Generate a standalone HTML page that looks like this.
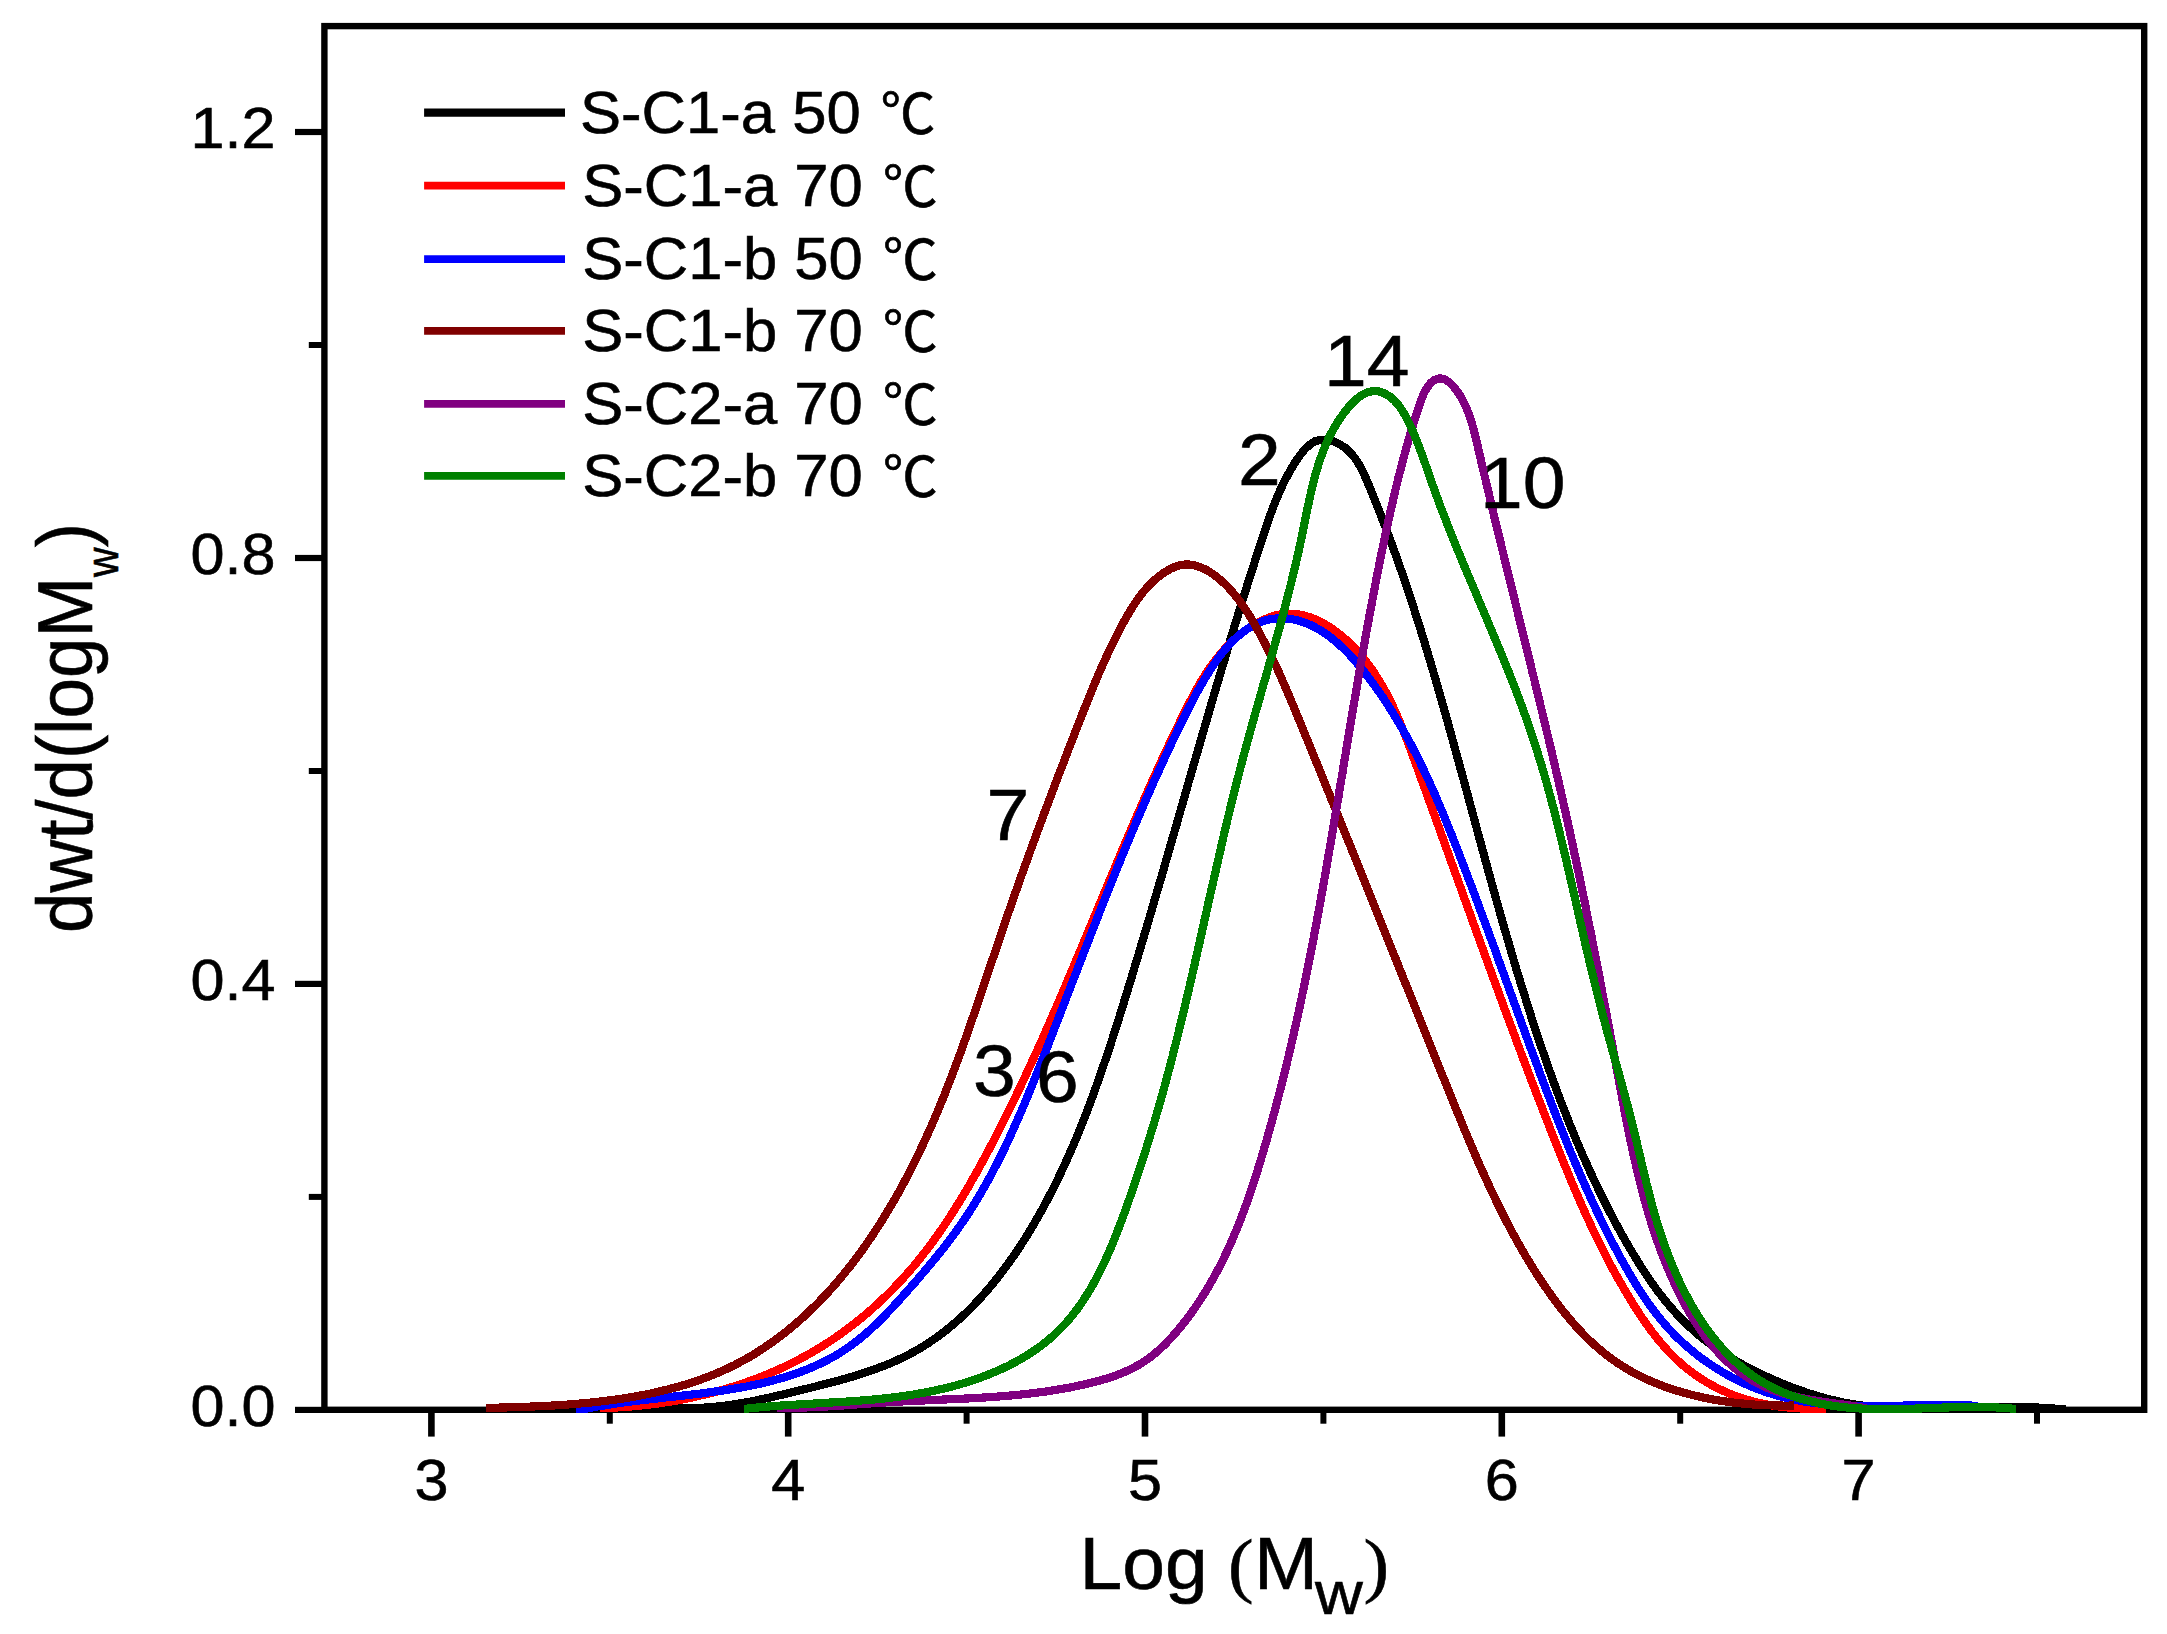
<!DOCTYPE html>
<html lang="en"><head><meta charset="utf-8"><title>Molecular weight distribution</title>
<style>
html,body{margin:0;padding:0;background:#fff;}
body{width:2167px;height:1634px;overflow:hidden;}
svg{display:block;}
text{fill:#000;stroke:#000;stroke-width:0.6px;}
</style></head><body>
<svg width="2167" height="1634" viewBox="0 0 2167 1634">
<rect x="0" y="0" width="2167" height="1634" fill="#fff"/>

<g stroke="#000" fill="none" stroke-linecap="butt">
<rect x="324.4" y="26.1" width="1819.7999999999997" height="1383.7" stroke-width="6.4"/>
<line x1="295" x2="324.4" y1="1409.9" y2="1409.9" stroke-width="6.2"/>
<line x1="295" x2="324.4" y1="983.9" y2="983.9" stroke-width="6.2"/>
<line x1="295" x2="324.4" y1="558.0" y2="558.0" stroke-width="6.2"/>
<line x1="295" x2="324.4" y1="132.0" y2="132.0" stroke-width="6.2"/>
<line x1="308.8" x2="324.4" y1="1196.9" y2="1196.9" stroke-width="6"/>
<line x1="308.8" x2="324.4" y1="771.0" y2="771.0" stroke-width="6"/>
<line x1="308.8" x2="324.4" y1="345.0" y2="345.0" stroke-width="6"/>
<line x1="431.4" x2="431.4" y1="1409.8" y2="1436.6" stroke-width="6.6"/>
<line x1="609.8" x2="609.8" y1="1409.8" y2="1423.7" stroke-width="6"/>
<line x1="788.2" x2="788.2" y1="1409.8" y2="1436.6" stroke-width="6.6"/>
<line x1="966.6" x2="966.6" y1="1409.8" y2="1423.7" stroke-width="6"/>
<line x1="1145.0" x2="1145.0" y1="1409.8" y2="1436.6" stroke-width="6.6"/>
<line x1="1323.4" x2="1323.4" y1="1409.8" y2="1423.7" stroke-width="6"/>
<line x1="1501.8" x2="1501.8" y1="1409.8" y2="1436.6" stroke-width="6.6"/>
<line x1="1680.2" x2="1680.2" y1="1409.8" y2="1423.7" stroke-width="6"/>
<line x1="1858.6" x2="1858.6" y1="1409.8" y2="1436.6" stroke-width="6.6"/>
<line x1="2037.0" x2="2037.0" y1="1409.8" y2="1423.7" stroke-width="6"/>
</g>
<g fill="none" stroke-width="8.2" stroke-linejoin="round" stroke-linecap="butt" shape-rendering="crispEdges">
<path stroke="#000000" d="M600.1,1409.2 L606.7,1409.2 L613.3,1408.8 L620.0,1408.5 L626.8,1408.3 L633.6,1408.3 L640.5,1408.2 L647.4,1408.3 L654.3,1408.3 L661.3,1408.4 L668.2,1408.4 L675.2,1408.4 L682.1,1408.3 L689.0,1408.2 L695.9,1408.0 L702.8,1407.7 L709.6,1407.2 L716.3,1406.6 L723.1,1405.9 L729.7,1405.0 L736.3,1404.0 L742.9,1402.9 L749.5,1401.7 L756.1,1400.4 L762.6,1399.0 L769.2,1397.6 L775.7,1396.1 L782.3,1394.6 L788.9,1393.0 L795.5,1391.4 L802.1,1389.8 L808.8,1388.2 L815.5,1386.5 L822.2,1384.8 L828.9,1383.1 L835.5,1381.4 L842.2,1379.5 L848.9,1377.6 L855.5,1375.7 L862.1,1373.6 L868.6,1371.4 L875.1,1369.1 L881.5,1366.7 L887.9,1364.2 L894.2,1361.6 L900.3,1358.7 L906.4,1355.8 L912.4,1352.6 L918.2,1349.3 L924.0,1345.9 L929.6,1342.2 L935.2,1338.4 L940.6,1334.5 L945.9,1330.4 L951.1,1326.1 L956.2,1321.8 L961.3,1317.3 L966.2,1312.7 L971.0,1307.9 L975.7,1303.1 L980.3,1298.1 L984.9,1293.0 L989.3,1287.9 L993.7,1282.6 L997.9,1277.3 L1002.1,1271.8 L1006.2,1266.3 L1010.2,1260.8 L1014.2,1255.1 L1018.0,1249.4 L1021.8,1243.7 L1025.5,1237.9 L1029.1,1232.0 L1032.6,1226.1 L1036.1,1220.2 L1039.5,1214.3 L1042.8,1208.3 L1046.0,1202.3 L1049.2,1196.2 L1052.3,1190.2 L1055.4,1184.1 L1058.4,1178.0 L1061.3,1171.8 L1064.2,1165.6 L1067.0,1159.5 L1069.8,1153.2 L1072.5,1147.0 L1075.2,1140.7 L1077.8,1134.5 L1080.4,1128.2 L1082.9,1121.9 L1085.4,1115.5 L1087.8,1109.2 L1090.2,1102.8 L1092.6,1096.4 L1094.9,1090.0 L1097.2,1083.6 L1099.5,1077.2 L1101.7,1070.8 L1103.9,1064.3 L1106.1,1057.9 L1108.3,1051.4 L1110.4,1045.0 L1112.5,1038.5 L1114.6,1032.0 L1116.7,1025.5 L1118.7,1019.0 L1120.8,1012.5 L1122.8,1006.0 L1124.8,999.5 L1126.8,993.0 L1128.8,986.5 L1130.8,980.0 L1132.8,973.5 L1134.7,966.9 L1136.7,960.4 L1138.7,953.9 L1140.6,947.4 L1142.6,940.9 L1144.5,934.4 L1146.5,927.8 L1148.4,921.3 L1150.3,914.8 L1152.2,908.3 L1154.1,901.7 L1156.0,895.2 L1158.0,888.7 L1159.9,882.1 L1161.8,875.6 L1163.7,869.1 L1165.5,862.5 L1167.4,856.0 L1169.3,849.5 L1171.2,842.9 L1173.1,836.4 L1175.0,829.8 L1176.9,823.3 L1178.7,816.8 L1180.6,810.2 L1182.5,803.7 L1184.4,797.1 L1186.3,790.6 L1188.1,784.0 L1190.0,777.5 L1191.9,771.0 L1193.8,764.4 L1195.7,757.9 L1197.6,751.3 L1199.5,744.8 L1201.4,738.2 L1203.3,731.7 L1205.2,725.1 L1207.1,718.6 L1209.0,712.0 L1210.9,705.5 L1212.8,698.9 L1214.7,692.4 L1216.7,685.8 L1218.6,679.3 L1220.6,672.7 L1222.5,666.2 L1224.5,659.7 L1226.4,653.1 L1228.4,646.6 L1230.3,640.1 L1232.3,633.5 L1234.3,627.0 L1236.3,620.5 L1238.3,614.0 L1240.3,607.5 L1242.3,601.0 L1244.4,594.5 L1246.4,588.0 L1248.4,581.6 L1250.5,575.1 L1252.6,568.6 L1254.6,562.2 L1256.7,555.7 L1258.8,549.3 L1260.9,542.9 L1263.0,536.5 L1265.2,530.0 L1267.3,523.7 L1269.5,517.3 L1271.8,510.9 L1274.2,504.6 L1276.8,498.3 L1279.4,492.0 L1282.3,485.8 L1285.3,479.6 L1288.6,473.4 L1292.1,467.3 L1295.9,461.2 L1300.1,455.2 L1304.5,449.6 L1309.4,444.9 L1314.7,441.4 L1320.6,439.8 L1326.9,439.8 L1333.2,441.3 L1339.4,444.1 L1345.1,447.8 L1350.1,452.3 L1354.4,457.4 L1358.1,462.9 L1361.4,468.8 L1364.4,475.0 L1367.2,481.3 L1369.8,487.7 L1372.5,494.1 L1375.0,500.5 L1377.6,506.9 L1380.1,513.3 L1382.6,519.7 L1385.1,526.1 L1387.5,532.5 L1389.9,538.9 L1392.2,545.4 L1394.6,551.8 L1396.9,558.2 L1399.1,564.7 L1401.4,571.1 L1403.6,577.6 L1405.8,584.0 L1408.0,590.5 L1410.1,597.0 L1412.2,603.4 L1414.3,609.9 L1416.4,616.4 L1418.4,622.8 L1420.5,629.3 L1422.5,635.8 L1424.5,642.3 L1426.5,648.8 L1428.4,655.3 L1430.4,661.8 L1432.3,668.3 L1434.2,674.8 L1436.1,681.4 L1438.0,687.9 L1439.9,694.4 L1441.7,700.9 L1443.6,707.5 L1445.4,714.0 L1447.3,720.5 L1449.1,727.1 L1450.9,733.6 L1452.7,740.2 L1454.5,746.7 L1456.3,753.3 L1458.1,759.9 L1459.9,766.4 L1461.7,773.0 L1463.5,779.5 L1465.3,786.1 L1467.1,792.7 L1468.8,799.3 L1470.6,805.8 L1472.4,812.4 L1474.2,819.0 L1476.0,825.5 L1477.7,832.1 L1479.5,838.7 L1481.3,845.3 L1483.1,851.8 L1484.9,858.4 L1486.7,865.0 L1488.5,871.6 L1490.3,878.1 L1492.1,884.7 L1493.9,891.3 L1495.8,897.8 L1497.6,904.4 L1499.5,910.9 L1501.3,917.5 L1503.2,924.1 L1505.1,930.6 L1507.0,937.2 L1508.9,943.7 L1510.8,950.2 L1512.7,956.8 L1514.7,963.3 L1516.6,969.9 L1518.6,976.4 L1520.6,982.9 L1522.6,989.4 L1524.7,995.9 L1526.7,1002.4 L1528.8,1008.9 L1530.8,1015.4 L1532.9,1021.9 L1535.1,1028.4 L1537.2,1034.9 L1539.4,1041.4 L1541.6,1047.8 L1543.8,1054.3 L1546.0,1060.7 L1548.3,1067.2 L1550.6,1073.6 L1552.9,1080.0 L1555.2,1086.4 L1557.6,1092.8 L1560.0,1099.2 L1562.4,1105.6 L1564.9,1111.9 L1567.4,1118.2 L1569.9,1124.6 L1572.5,1130.9 L1575.1,1137.2 L1577.7,1143.5 L1580.4,1149.7 L1583.1,1156.0 L1585.9,1162.2 L1588.7,1168.4 L1591.5,1174.6 L1594.4,1180.7 L1597.3,1186.9 L1600.3,1193.0 L1603.3,1199.1 L1606.3,1205.2 L1609.4,1211.2 L1612.5,1217.2 L1615.7,1223.2 L1619.0,1229.2 L1622.3,1235.2 L1625.6,1241.1 L1629.0,1247.0 L1632.5,1252.8 L1636.0,1258.6 L1639.6,1264.4 L1643.2,1270.1 L1647.0,1275.8 L1650.8,1281.4 L1654.7,1286.9 L1658.7,1292.3 L1662.8,1297.6 L1667.1,1302.9 L1671.4,1308.0 L1675.9,1313.1 L1680.5,1318.0 L1685.2,1322.8 L1690.1,1327.4 L1695.2,1332.0 L1700.3,1336.4 L1705.7,1340.6 L1711.1,1344.7 L1716.7,1348.7 L1722.4,1352.5 L1728.2,1356.2 L1734.1,1359.8 L1740.1,1363.2 L1746.1,1366.6 L1752.3,1369.8 L1758.4,1372.9 L1764.7,1375.8 L1771.0,1378.7 L1777.3,1381.4 L1783.6,1384.0 L1790.0,1386.6 L1796.3,1389.0 L1802.7,1391.2 L1809.1,1393.4 L1815.5,1395.4 L1822.0,1397.3 L1828.5,1399.1 L1835.0,1400.6 L1841.5,1402.1 L1848.1,1403.4 L1854.8,1404.5 L1861.4,1405.4 L1868.1,1406.3 L1874.8,1407.0 L1881.6,1407.5 L1888.3,1408.0 L1895.1,1408.3 L1902.0,1408.6 L1908.8,1408.8 L1915.6,1408.9 L1922.5,1408.9 L1929.4,1408.8 L1936.3,1408.7 L1943.2,1408.6 L1950.0,1408.5 L1956.9,1408.3 L1963.8,1408.1 L1970.7,1407.9 L1977.6,1407.7 L1984.5,1407.5 L1991.4,1407.3 L1998.2,1407.2 L2005.1,1407.1 L2011.9,1407.1 L2018.7,1407.1 L2025.5,1407.2 L2032.2,1407.4 L2039.0,1407.6 L2045.7,1408.0 L2052.3,1408.4 L2059.0,1409.0 L2065.6,1409.2"/>
<path stroke="#ff0000" d="M599.9,1408.2 L605.3,1408.0 L610.7,1407.8 L616.1,1407.5 L621.4,1407.2 L626.8,1406.8 L632.2,1406.4 L637.6,1405.9 L643.0,1405.3 L648.4,1404.7 L653.7,1404.0 L659.1,1403.3 L664.4,1402.5 L669.8,1401.7 L675.1,1400.8 L680.4,1399.8 L685.7,1398.8 L691.0,1397.7 L696.3,1396.5 L701.5,1395.3 L706.7,1394.1 L712.0,1392.8 L717.2,1391.4 L722.4,1389.9 L727.5,1388.4 L732.7,1386.8 L737.8,1385.2 L742.9,1383.5 L747.9,1381.7 L753.0,1379.9 L758.0,1378.0 L763.0,1376.0 L767.9,1374.0 L772.9,1371.9 L777.8,1369.8 L782.7,1367.5 L787.5,1365.2 L792.3,1362.9 L797.1,1360.4 L801.8,1357.9 L806.5,1355.4 L811.2,1352.7 L815.8,1350.0 L820.4,1347.3 L825.0,1344.4 L829.5,1341.5 L834.0,1338.5 L838.4,1335.4 L842.8,1332.3 L847.1,1329.1 L851.4,1325.9 L855.7,1322.6 L859.9,1319.2 L864.0,1315.8 L868.2,1312.3 L872.2,1308.7 L876.3,1305.1 L880.2,1301.4 L884.1,1297.7 L888.0,1293.9 L891.8,1290.1 L895.6,1286.2 L899.3,1282.3 L903.0,1278.3 L906.6,1274.3 L910.2,1270.2 L913.7,1266.1 L917.1,1262.0 L920.5,1257.8 L923.8,1253.6 L927.1,1249.3 L930.4,1245.0 L933.6,1240.6 L936.7,1236.3 L939.8,1231.9 L942.9,1227.4 L945.9,1222.9 L948.9,1218.5 L951.8,1213.9 L954.7,1209.4 L957.5,1204.8 L960.4,1200.2 L963.2,1195.6 L965.9,1190.9 L968.7,1186.3 L971.3,1181.6 L974.0,1176.9 L976.7,1172.2 L979.3,1167.5 L981.9,1162.7 L984.4,1158.0 L987.0,1153.2 L989.5,1148.5 L992.0,1143.7 L994.5,1138.9 L997.0,1134.1 L999.4,1129.3 L1001.8,1124.5 L1004.3,1119.7 L1006.7,1114.9 L1009.0,1110.1 L1011.4,1105.3 L1013.8,1100.5 L1016.1,1095.6 L1018.4,1090.8 L1020.7,1086.0 L1023.0,1081.1 L1025.3,1076.3 L1027.5,1071.4 L1029.8,1066.6 L1032.0,1061.7 L1034.3,1056.8 L1036.5,1051.9 L1038.7,1047.1 L1040.9,1042.2 L1043.1,1037.3 L1045.2,1032.4 L1047.4,1027.5 L1049.6,1022.6 L1051.7,1017.7 L1053.8,1012.8 L1056.0,1007.9 L1058.1,1003.0 L1060.2,998.0 L1062.3,993.1 L1064.4,988.2 L1066.5,983.3 L1068.6,978.3 L1070.7,973.4 L1072.8,968.5 L1074.9,963.5 L1076.9,958.6 L1079.0,953.7 L1081.1,948.7 L1083.2,943.8 L1085.2,938.8 L1087.3,933.9 L1089.3,928.9 L1091.4,924.0 L1093.5,919.0 L1095.5,914.0 L1097.6,909.1 L1099.7,904.1 L1101.7,899.2 L1103.8,894.2 L1105.9,889.2 L1107.9,884.3 L1110.0,879.3 L1112.1,874.4 L1114.2,869.4 L1116.2,864.4 L1118.3,859.5 L1120.4,854.5 L1122.5,849.5 L1124.6,844.6 L1126.7,839.6 L1128.9,834.6 L1131.0,829.7 L1133.1,824.7 L1135.3,819.7 L1137.4,814.8 L1139.6,809.8 L1141.7,804.9 L1143.9,799.9 L1146.1,794.9 L1148.3,790.0 L1150.5,785.0 L1152.7,780.1 L1155.0,775.1 L1157.2,770.2 L1159.5,765.2 L1161.7,760.3 L1164.0,755.4 L1166.3,750.4 L1168.6,745.5 L1171.0,740.5 L1173.3,735.6 L1175.7,730.7 L1178.0,725.8 L1180.4,720.8 L1182.8,715.9 L1185.3,711.0 L1187.7,706.1 L1190.2,701.2 L1192.8,696.4 L1195.4,691.6 L1198.0,686.8 L1200.7,682.1 L1203.6,677.5 L1206.4,672.9 L1209.4,668.5 L1212.5,664.1 L1215.7,659.8 L1219.1,655.6 L1222.5,651.5 L1226.1,647.5 L1229.8,643.7 L1233.7,640.0 L1237.7,636.4 L1241.9,633.0 L1246.3,629.7 L1250.8,626.7 L1255.4,623.9 L1260.2,621.3 L1265.0,619.1 L1270.0,617.2 L1274.9,615.6 L1279.9,614.5 L1285.0,613.8 L1290.0,613.6 L1295.0,613.9 L1300.0,614.6 L1304.9,615.7 L1309.8,617.2 L1314.6,619.0 L1319.4,621.2 L1324.1,623.7 L1328.7,626.4 L1333.2,629.5 L1337.6,632.7 L1341.8,636.1 L1346.0,639.7 L1350.0,643.4 L1353.8,647.3 L1357.5,651.2 L1361.0,655.3 L1364.5,659.4 L1367.7,663.7 L1370.9,668.0 L1373.9,672.4 L1376.8,676.9 L1379.6,681.4 L1382.4,686.1 L1385.0,690.7 L1387.5,695.5 L1389.9,700.3 L1392.3,705.1 L1394.5,710.0 L1396.8,715.0 L1398.9,719.9 L1401.0,725.0 L1403.1,730.0 L1405.1,735.1 L1407.0,740.1 L1409.0,745.2 L1410.9,750.4 L1412.8,755.5 L1414.6,760.6 L1416.5,765.7 L1418.4,770.9 L1420.2,776.0 L1422.1,781.1 L1424.0,786.2 L1425.8,791.3 L1427.7,796.4 L1429.5,801.5 L1431.4,806.6 L1433.2,811.7 L1435.1,816.8 L1436.9,821.9 L1438.7,827.0 L1440.6,832.1 L1442.4,837.2 L1444.2,842.3 L1446.1,847.4 L1447.9,852.4 L1449.7,857.5 L1451.5,862.6 L1453.4,867.7 L1455.2,872.7 L1457.0,877.8 L1458.8,882.9 L1460.7,887.9 L1462.5,893.0 L1464.3,898.1 L1466.1,903.1 L1468.0,908.2 L1469.8,913.2 L1471.6,918.3 L1473.4,923.3 L1475.3,928.4 L1477.1,933.4 L1478.9,938.5 L1480.7,943.5 L1482.6,948.6 L1484.4,953.6 L1486.2,958.6 L1488.1,963.7 L1489.9,968.7 L1491.7,973.7 L1493.6,978.8 L1495.4,983.8 L1497.3,988.8 L1499.1,993.9 L1501.0,998.9 L1502.8,1003.9 L1504.7,1009.0 L1506.5,1014.0 L1508.4,1019.0 L1510.2,1024.0 L1512.1,1029.0 L1514.0,1034.1 L1515.9,1039.1 L1517.7,1044.1 L1519.6,1049.1 L1521.5,1054.1 L1523.4,1059.2 L1525.3,1064.2 L1527.2,1069.2 L1529.1,1074.2 L1531.0,1079.2 L1532.9,1084.2 L1534.9,1089.3 L1536.8,1094.3 L1538.7,1099.3 L1540.7,1104.3 L1542.6,1109.3 L1544.5,1114.3 L1546.5,1119.4 L1548.5,1124.4 L1550.4,1129.4 L1552.4,1134.4 L1554.4,1139.4 L1556.4,1144.4 L1558.4,1149.4 L1560.4,1154.4 L1562.4,1159.4 L1564.4,1164.4 L1566.5,1169.4 L1568.6,1174.4 L1570.6,1179.4 L1572.7,1184.4 L1574.8,1189.4 L1577.0,1194.3 L1579.1,1199.3 L1581.3,1204.2 L1583.5,1209.2 L1585.7,1214.1 L1588.0,1219.0 L1590.2,1223.9 L1592.5,1228.8 L1594.8,1233.7 L1597.2,1238.5 L1599.6,1243.4 L1602.0,1248.2 L1604.4,1253.0 L1606.9,1257.8 L1609.4,1262.6 L1611.9,1267.4 L1614.5,1272.1 L1617.1,1276.8 L1619.8,1281.5 L1622.5,1286.2 L1625.2,1290.9 L1628.0,1295.5 L1630.8,1300.2 L1633.6,1304.8 L1636.6,1309.3 L1639.5,1313.9 L1642.5,1318.4 L1645.6,1322.8 L1648.7,1327.2 L1651.9,1331.6 L1655.2,1335.8 L1658.5,1340.0 L1662.0,1344.1 L1665.5,1348.2 L1669.1,1352.1 L1672.8,1355.9 L1676.7,1359.6 L1680.6,1363.2 L1684.6,1366.7 L1688.8,1370.0 L1693.1,1373.3 L1697.4,1376.3 L1701.9,1379.3 L1706.5,1382.1 L1711.1,1384.8 L1715.9,1387.3 L1720.7,1389.7 L1725.6,1391.9 L1730.6,1394.0 L1735.6,1396.0 L1740.7,1397.8 L1745.8,1399.4 L1751.1,1400.9 L1756.3,1402.3 L1761.6,1403.5 L1766.9,1404.5 L1772.3,1405.5 L1777.7,1406.3 L1783.1,1407.0 L1788.5,1407.5 L1793.9,1408.0 L1799.3,1408.4 L1804.7,1408.6 L1810.0,1408.8 L1815.4,1408.9 L1820.7,1408.9 L1826.0,1408.8"/>
<path stroke="#0000ff" d="M575.8,1409.2 L581.1,1409.2 L586.5,1408.6 L592.0,1407.5 L597.5,1406.5 L603.0,1405.6 L608.6,1404.7 L614.3,1403.8 L619.9,1403.0 L625.6,1402.2 L631.4,1401.5 L637.1,1400.7 L642.9,1400.1 L648.7,1399.4 L654.5,1398.7 L660.4,1398.1 L666.2,1397.4 L672.1,1396.8 L678.0,1396.1 L683.8,1395.5 L689.7,1394.8 L695.6,1394.1 L701.5,1393.4 L707.3,1392.6 L713.2,1391.8 L719.1,1391.0 L724.9,1390.2 L730.7,1389.2 L736.5,1388.3 L742.3,1387.3 L748.0,1386.2 L753.7,1385.0 L759.4,1383.8 L765.1,1382.5 L770.7,1381.1 L776.2,1379.6 L781.8,1378.1 L787.3,1376.4 L792.7,1374.7 L798.1,1372.8 L803.4,1370.8 L808.7,1368.7 L813.9,1366.5 L819.0,1364.2 L824.1,1361.7 L829.1,1359.1 L834.1,1356.4 L838.9,1353.5 L843.7,1350.4 L848.4,1347.3 L853.0,1343.9 L857.6,1340.4 L862.1,1336.8 L866.5,1333.0 L870.8,1329.2 L875.1,1325.2 L879.3,1321.1 L883.4,1317.0 L887.5,1312.7 L891.6,1308.4 L895.6,1304.1 L899.6,1299.7 L903.5,1295.3 L907.4,1290.9 L911.3,1286.5 L915.2,1282.1 L919.0,1277.6 L922.8,1273.2 L926.6,1268.8 L930.3,1264.3 L934.0,1259.9 L937.6,1255.4 L941.3,1250.9 L944.8,1246.4 L948.3,1241.8 L951.8,1237.2 L955.2,1232.6 L958.5,1227.9 L961.8,1223.2 L965.0,1218.5 L968.2,1213.7 L971.3,1208.9 L974.3,1204.0 L977.3,1199.1 L980.2,1194.2 L983.1,1189.2 L985.9,1184.2 L988.7,1179.2 L991.4,1174.1 L994.1,1169.0 L996.8,1163.9 L999.4,1158.7 L1001.9,1153.6 L1004.5,1148.4 L1007.0,1143.1 L1009.4,1137.9 L1011.8,1132.6 L1014.2,1127.3 L1016.6,1122.0 L1018.9,1116.7 L1021.2,1111.4 L1023.5,1106.0 L1025.8,1100.6 L1028.0,1095.3 L1030.2,1089.9 L1032.4,1084.5 L1034.6,1079.1 L1036.8,1073.7 L1038.9,1068.2 L1041.1,1062.8 L1043.2,1057.4 L1045.4,1052.0 L1047.5,1046.5 L1049.6,1041.1 L1051.7,1035.7 L1053.8,1030.2 L1055.9,1024.8 L1058.0,1019.4 L1060.1,1014.0 L1062.2,1008.5 L1064.3,1003.1 L1066.4,997.7 L1068.5,992.3 L1070.6,986.8 L1072.7,981.4 L1074.8,976.0 L1076.9,970.6 L1079.0,965.2 L1081.1,959.8 L1083.2,954.3 L1085.3,948.9 L1087.4,943.5 L1089.5,938.1 L1091.6,932.7 L1093.7,927.3 L1095.8,921.9 L1097.9,916.5 L1100.0,911.2 L1102.1,905.8 L1104.3,900.4 L1106.4,895.0 L1108.6,889.6 L1110.7,884.3 L1112.9,878.9 L1115.0,873.5 L1117.2,868.2 L1119.4,862.8 L1121.5,857.5 L1123.7,852.1 L1125.9,846.8 L1128.2,841.4 L1130.4,836.1 L1132.6,830.8 L1134.9,825.5 L1137.1,820.1 L1139.4,814.8 L1141.7,809.5 L1143.9,804.2 L1146.2,798.9 L1148.6,793.7 L1150.9,788.4 L1153.2,783.1 L1155.6,777.8 L1158.0,772.6 L1160.4,767.3 L1162.8,762.1 L1165.2,756.8 L1167.6,751.6 L1170.1,746.4 L1172.5,741.2 L1175.0,736.0 L1177.5,730.7 L1180.0,725.6 L1182.6,720.4 L1185.1,715.2 L1187.7,710.0 L1190.4,704.9 L1193.1,699.7 L1195.8,694.6 L1198.6,689.4 L1201.5,684.3 L1204.5,679.2 L1207.6,674.1 L1210.8,669.1 L1214.1,664.0 L1217.6,659.1 L1221.2,654.2 L1225.0,649.5 L1228.9,645.0 L1233.0,640.7 L1237.3,636.7 L1241.7,633.0 L1246.4,629.6 L1251.2,626.6 L1256.2,624.0 L1261.3,621.8 L1266.5,620.1 L1271.9,619.0 L1277.2,618.3 L1282.7,618.2 L1288.1,618.6 L1293.5,619.5 L1298.9,620.8 L1304.1,622.5 L1309.3,624.5 L1314.3,626.9 L1319.3,629.6 L1324.0,632.6 L1328.7,635.9 L1333.3,639.5 L1337.7,643.2 L1342.0,647.2 L1346.3,651.3 L1350.4,655.6 L1354.4,660.1 L1358.3,664.6 L1362.2,669.3 L1365.9,674.0 L1369.6,678.8 L1373.1,683.6 L1376.6,688.5 L1380.0,693.3 L1383.4,698.2 L1386.6,703.1 L1389.8,708.1 L1392.9,713.0 L1396.0,718.0 L1398.9,723.0 L1401.9,728.0 L1404.7,733.1 L1407.5,738.1 L1410.3,743.2 L1412.9,748.3 L1415.6,753.4 L1418.2,758.5 L1420.7,763.7 L1423.2,768.8 L1425.6,774.0 L1428.1,779.2 L1430.4,784.4 L1432.8,789.7 L1435.1,794.9 L1437.3,800.2 L1439.6,805.4 L1441.8,810.7 L1444.0,816.0 L1446.2,821.3 L1448.3,826.6 L1450.5,832.0 L1452.6,837.3 L1454.7,842.7 L1456.8,848.0 L1458.9,853.4 L1460.9,858.8 L1463.0,864.2 L1465.1,869.5 L1467.1,875.0 L1469.2,880.4 L1471.3,885.8 L1473.3,891.2 L1475.3,896.6 L1477.4,902.1 L1479.4,907.5 L1481.4,913.0 L1483.4,918.4 L1485.4,923.9 L1487.5,929.3 L1489.5,934.8 L1491.5,940.3 L1493.5,945.7 L1495.5,951.2 L1497.5,956.7 L1499.4,962.2 L1501.4,967.6 L1503.4,973.1 L1505.4,978.6 L1507.4,984.1 L1509.4,989.6 L1511.4,995.0 L1513.4,1000.5 L1515.4,1006.0 L1517.4,1011.5 L1519.4,1017.0 L1521.3,1022.4 L1523.3,1027.9 L1525.3,1033.4 L1527.3,1038.8 L1529.3,1044.3 L1531.3,1049.8 L1533.3,1055.2 L1535.4,1060.7 L1537.4,1066.1 L1539.4,1071.5 L1541.4,1077.0 L1543.4,1082.4 L1545.5,1087.8 L1547.5,1093.2 L1549.6,1098.6 L1551.6,1104.1 L1553.7,1109.4 L1555.8,1114.8 L1557.9,1120.2 L1560.0,1125.6 L1562.2,1131.0 L1564.3,1136.3 L1566.5,1141.7 L1568.6,1147.0 L1570.8,1152.4 L1573.1,1157.7 L1575.3,1163.0 L1577.6,1168.3 L1579.8,1173.6 L1582.1,1178.9 L1584.5,1184.2 L1586.8,1189.4 L1589.2,1194.7 L1591.6,1200.0 L1594.0,1205.2 L1596.5,1210.4 L1599.0,1215.6 L1601.5,1220.8 L1604.1,1226.0 L1606.7,1231.2 L1609.3,1236.4 L1611.9,1241.6 L1614.6,1246.7 L1617.4,1251.8 L1620.1,1257.0 L1622.9,1262.1 L1625.8,1267.2 L1628.7,1272.2 L1631.6,1277.3 L1634.7,1282.3 L1637.7,1287.2 L1640.9,1292.1 L1644.1,1297.0 L1647.4,1301.8 L1650.7,1306.5 L1654.2,1311.2 L1657.8,1315.7 L1661.4,1320.2 L1665.2,1324.7 L1669.0,1329.0 L1673.0,1333.2 L1677.0,1337.3 L1681.2,1341.3 L1685.5,1345.2 L1689.9,1349.0 L1694.4,1352.7 L1698.9,1356.3 L1703.6,1359.7 L1708.3,1363.1 L1713.2,1366.3 L1718.1,1369.4 L1723.0,1372.4 L1728.1,1375.3 L1733.2,1378.0 L1738.4,1380.6 L1743.6,1383.1 L1748.9,1385.5 L1754.2,1387.7 L1759.6,1389.8 L1765.0,1391.7 L1770.5,1393.5 L1776.0,1395.2 L1781.6,1396.7 L1787.2,1398.1 L1792.8,1399.4 L1798.4,1400.5 L1804.1,1401.5 L1809.8,1402.3 L1815.5,1403.1 L1821.2,1403.8 L1827.0,1404.3 L1832.7,1404.8 L1838.5,1405.2 L1844.3,1405.5 L1850.1,1405.7 L1856.0,1405.9 L1861.8,1406.0 L1867.6,1406.0 L1873.5,1406.0 L1879.3,1406.0 L1885.2,1406.0 L1891.0,1405.9 L1896.9,1405.8 L1902.7,1405.6 L1908.6,1405.5 L1914.4,1405.4 L1920.2,1405.3 L1926.1,1405.2 L1931.9,1405.1 L1937.7,1405.0 L1943.5,1405.0 L1949.2,1405.0 L1955.0,1405.1 L1960.7,1405.2 L1966.4,1405.4 L1972.1,1405.6 L1977.7,1405.9"/>
<path stroke="#800000" d="M486.1,1407.9 L491.4,1407.8 L496.8,1407.7 L502.3,1407.5 L507.8,1407.4 L513.3,1407.2 L518.9,1407.0 L524.5,1406.8 L530.1,1406.6 L535.8,1406.4 L541.5,1406.1 L547.3,1405.8 L553.0,1405.5 L558.8,1405.1 L564.6,1404.8 L570.5,1404.3 L576.3,1403.9 L582.2,1403.3 L588.0,1402.8 L593.9,1402.2 L599.8,1401.5 L605.7,1400.8 L611.5,1400.1 L617.4,1399.3 L623.3,1398.4 L629.1,1397.5 L634.9,1396.5 L640.8,1395.4 L646.6,1394.3 L652.4,1393.1 L658.1,1391.8 L663.8,1390.4 L669.5,1389.0 L675.2,1387.5 L680.8,1385.9 L686.4,1384.3 L692.0,1382.5 L697.5,1380.7 L702.9,1378.7 L708.3,1376.7 L713.7,1374.6 L719.0,1372.3 L724.3,1370.0 L729.4,1367.6 L734.6,1365.1 L739.6,1362.4 L744.6,1359.7 L749.6,1356.9 L754.4,1354.0 L759.3,1350.9 L764.0,1347.8 L768.7,1344.6 L773.4,1341.4 L778.0,1338.0 L782.5,1334.6 L787.0,1331.0 L791.4,1327.4 L795.7,1323.7 L800.0,1320.0 L804.3,1316.1 L808.5,1312.2 L812.6,1308.2 L816.7,1304.2 L820.7,1300.1 L824.7,1295.9 L828.6,1291.7 L832.5,1287.4 L836.3,1283.0 L840.0,1278.6 L843.7,1274.1 L847.4,1269.6 L851.0,1265.1 L854.5,1260.4 L858.0,1255.8 L861.5,1251.1 L864.9,1246.3 L868.2,1241.5 L871.5,1236.7 L874.7,1231.8 L877.9,1226.9 L881.1,1222.0 L884.2,1217.0 L887.2,1212.0 L890.2,1207.0 L893.2,1201.9 L896.1,1196.8 L899.0,1191.7 L901.8,1186.6 L904.5,1181.5 L907.3,1176.3 L909.9,1171.2 L912.6,1166.0 L915.2,1160.8 L917.7,1155.6 L920.2,1150.3 L922.7,1145.1 L925.1,1139.8 L927.5,1134.6 L929.9,1129.3 L932.2,1124.0 L934.5,1118.7 L936.8,1113.4 L939.0,1108.1 L941.2,1102.7 L943.4,1097.4 L945.5,1092.0 L947.6,1086.7 L949.7,1081.3 L951.8,1075.9 L953.8,1070.5 L955.9,1065.1 L957.9,1059.7 L959.9,1054.3 L961.8,1048.9 L963.8,1043.5 L965.7,1038.0 L967.6,1032.6 L969.5,1027.2 L971.4,1021.7 L973.3,1016.2 L975.2,1010.8 L977.1,1005.3 L978.9,999.9 L980.8,994.4 L982.6,988.9 L984.5,983.5 L986.3,978.0 L988.1,972.5 L990.0,967.0 L991.8,961.5 L993.7,956.1 L995.5,950.6 L997.4,945.1 L999.2,939.6 L1001.1,934.1 L1002.9,928.7 L1004.8,923.2 L1006.7,917.7 L1008.6,912.2 L1010.5,906.8 L1012.4,901.3 L1014.3,895.8 L1016.2,890.4 L1018.2,884.9 L1020.1,879.5 L1022.0,874.0 L1024.0,868.5 L1026.0,863.1 L1027.9,857.6 L1029.9,852.2 L1031.9,846.7 L1033.9,841.3 L1035.9,835.9 L1037.9,830.4 L1039.9,825.0 L1041.9,819.6 L1043.9,814.1 L1046.0,808.7 L1048.0,803.3 L1050.0,797.9 L1052.1,792.4 L1054.1,787.0 L1056.2,781.6 L1058.2,776.2 L1060.3,770.8 L1062.4,765.4 L1064.5,760.0 L1066.5,754.6 L1068.6,749.2 L1070.7,743.8 L1072.8,738.4 L1074.9,733.0 L1077.0,727.7 L1079.1,722.3 L1081.2,716.9 L1083.3,711.5 L1085.5,706.2 L1087.6,700.8 L1089.8,695.5 L1091.9,690.1 L1094.1,684.8 L1096.4,679.5 L1098.6,674.2 L1100.9,668.9 L1103.3,663.6 L1105.6,658.4 L1108.1,653.1 L1110.5,647.9 L1113.0,642.7 L1115.6,637.5 L1118.3,632.3 L1121.0,627.2 L1123.7,622.0 L1126.6,616.9 L1129.5,611.9 L1132.6,606.9 L1135.8,602.0 L1139.2,597.3 L1142.7,592.6 L1146.5,588.2 L1150.5,583.9 L1154.8,579.9 L1159.3,576.1 L1164.1,572.6 L1169.1,569.6 L1174.3,567.1 L1179.6,565.4 L1185.0,564.5 L1190.4,564.6 L1195.7,565.6 L1201.0,567.4 L1206.2,569.9 L1211.2,572.9 L1216.1,576.4 L1220.7,580.2 L1225.0,584.1 L1229.1,588.3 L1233.0,592.7 L1236.7,597.2 L1240.2,601.8 L1243.6,606.6 L1246.8,611.4 L1249.9,616.4 L1252.9,621.4 L1255.8,626.4 L1258.6,631.5 L1261.4,636.6 L1264.1,641.7 L1266.7,646.9 L1269.3,652.1 L1271.9,657.3 L1274.3,662.5 L1276.8,667.7 L1279.2,673.0 L1281.5,678.3 L1283.8,683.6 L1286.1,688.9 L1288.4,694.2 L1290.6,699.5 L1292.9,704.9 L1295.1,710.2 L1297.3,715.6 L1299.5,720.9 L1301.7,726.3 L1303.9,731.6 L1306.1,737.0 L1308.3,742.3 L1310.4,747.7 L1312.6,753.0 L1314.8,758.4 L1317.0,763.7 L1319.2,769.1 L1321.4,774.5 L1323.5,779.8 L1325.7,785.2 L1327.9,790.5 L1330.1,795.9 L1332.2,801.2 L1334.4,806.6 L1336.6,812.0 L1338.7,817.3 L1340.9,822.7 L1343.1,828.1 L1345.2,833.4 L1347.4,838.8 L1349.6,844.1 L1351.7,849.5 L1353.9,854.9 L1356.0,860.2 L1358.2,865.6 L1360.4,871.0 L1362.5,876.3 L1364.7,881.7 L1366.8,887.1 L1369.0,892.4 L1371.1,897.8 L1373.3,903.2 L1375.4,908.5 L1377.6,913.9 L1379.8,919.3 L1381.9,924.6 L1384.1,930.0 L1386.2,935.4 L1388.4,940.7 L1390.5,946.1 L1392.7,951.5 L1394.8,956.8 L1397.0,962.2 L1399.1,967.6 L1401.3,973.0 L1403.4,978.3 L1405.6,983.7 L1407.8,989.1 L1409.9,994.4 L1412.1,999.8 L1414.2,1005.2 L1416.4,1010.6 L1418.5,1015.9 L1420.7,1021.3 L1422.9,1026.7 L1425.0,1032.1 L1427.2,1037.4 L1429.3,1042.8 L1431.5,1048.2 L1433.7,1053.6 L1435.8,1058.9 L1438.0,1064.3 L1440.2,1069.7 L1442.3,1075.1 L1444.5,1080.4 L1446.7,1085.8 L1448.9,1091.2 L1451.0,1096.6 L1453.2,1101.9 L1455.4,1107.3 L1457.6,1112.7 L1459.8,1118.1 L1462.0,1123.4 L1464.2,1128.8 L1466.4,1134.1 L1468.7,1139.5 L1470.9,1144.8 L1473.2,1150.1 L1475.5,1155.5 L1477.8,1160.8 L1480.1,1166.1 L1482.5,1171.4 L1484.9,1176.6 L1487.3,1181.9 L1489.7,1187.2 L1492.2,1192.4 L1494.7,1197.6 L1497.2,1202.8 L1499.7,1208.0 L1502.3,1213.2 L1504.9,1218.3 L1507.6,1223.5 L1510.3,1228.6 L1513.0,1233.7 L1515.8,1238.7 L1518.6,1243.8 L1521.4,1248.8 L1524.3,1253.8 L1527.3,1258.8 L1530.3,1263.7 L1533.3,1268.6 L1536.4,1273.5 L1539.6,1278.4 L1542.8,1283.2 L1546.1,1288.0 L1549.4,1292.8 L1552.8,1297.5 L1556.2,1302.2 L1559.7,1306.8 L1563.3,1311.3 L1567.0,1315.8 L1570.7,1320.3 L1574.5,1324.6 L1578.3,1328.9 L1582.3,1333.1 L1586.3,1337.2 L1590.4,1341.2 L1594.7,1345.0 L1598.9,1348.8 L1603.3,1352.5 L1607.8,1356.0 L1612.4,1359.4 L1617.1,1362.7 L1621.9,1365.8 L1626.7,1368.8 L1631.7,1371.7 L1636.8,1374.4 L1641.9,1377.0 L1647.2,1379.5 L1652.5,1381.8 L1657.9,1384.0 L1663.3,1386.1 L1668.8,1388.0 L1674.4,1389.9 L1680.0,1391.6 L1685.6,1393.2 L1691.3,1394.7 L1697.0,1396.1 L1702.7,1397.4 L1708.5,1398.6 L1714.3,1399.7 L1720.1,1400.7 L1725.9,1401.5 L1731.7,1402.3 L1737.5,1403.0 L1743.3,1403.6 L1749.1,1404.2 L1754.9,1404.6 L1760.6,1405.0 L1766.3,1405.2 L1772.0,1405.4 L1777.7,1405.5 L1783.3,1405.6 L1788.8,1405.6 L1794.3,1405.5"/>
<path stroke="#800080" d="M777.0,1407.7 L783.5,1407.8 L790.1,1407.8 L796.6,1407.7 L803.2,1407.6 L809.7,1407.3 L816.2,1407.1 L822.8,1406.7 L829.3,1406.3 L835.8,1405.9 L842.3,1405.5 L848.8,1405.0 L855.3,1404.5 L861.9,1404.1 L868.4,1403.6 L874.9,1403.1 L881.4,1402.7 L887.9,1402.3 L894.5,1401.9 L901.0,1401.5 L907.5,1401.2 L914.1,1400.9 L920.6,1400.6 L927.1,1400.3 L933.7,1400.0 L940.2,1399.7 L946.8,1399.4 L953.3,1399.2 L959.8,1398.8 L966.4,1398.5 L972.9,1398.2 L979.4,1397.8 L985.9,1397.4 L992.5,1396.9 L999.0,1396.5 L1005.5,1395.9 L1012.0,1395.4 L1018.5,1394.8 L1025.0,1394.1 L1031.5,1393.3 L1038.0,1392.5 L1044.4,1391.7 L1050.9,1390.7 L1057.3,1389.7 L1063.8,1388.6 L1070.2,1387.4 L1076.6,1386.1 L1083.0,1384.7 L1089.4,1383.2 L1095.8,1381.6 L1102.1,1379.9 L1108.4,1378.0 L1114.6,1375.9 L1120.7,1373.6 L1126.7,1371.0 L1132.5,1368.2 L1138.2,1365.2 L1143.7,1361.8 L1149.0,1358.1 L1154.2,1354.1 L1159.2,1349.8 L1164.0,1345.3 L1168.6,1340.6 L1173.1,1335.7 L1177.5,1330.7 L1181.7,1325.6 L1185.8,1320.4 L1189.8,1315.1 L1193.6,1309.8 L1197.3,1304.4 L1200.9,1298.9 L1204.4,1293.4 L1207.8,1287.8 L1211.1,1282.2 L1214.3,1276.5 L1217.4,1270.8 L1220.4,1265.0 L1223.3,1259.2 L1226.1,1253.4 L1228.8,1247.5 L1231.5,1241.6 L1234.0,1235.6 L1236.5,1229.6 L1239.0,1223.6 L1241.3,1217.5 L1243.6,1211.4 L1245.9,1205.3 L1248.1,1199.1 L1250.2,1193.0 L1252.3,1186.8 L1254.3,1180.6 L1256.3,1174.4 L1258.3,1168.1 L1260.2,1161.9 L1262.1,1155.6 L1263.9,1149.3 L1265.8,1143.1 L1267.6,1136.8 L1269.3,1130.5 L1271.1,1124.2 L1272.8,1117.9 L1274.6,1111.6 L1276.2,1105.3 L1277.9,1098.9 L1279.5,1092.6 L1281.2,1086.3 L1282.8,1079.9 L1284.3,1073.6 L1285.9,1067.2 L1287.4,1060.9 L1289.0,1054.5 L1290.5,1048.2 L1291.9,1041.8 L1293.4,1035.4 L1294.8,1029.0 L1296.3,1022.6 L1297.7,1016.2 L1299.1,1009.9 L1300.4,1003.5 L1301.8,997.1 L1303.1,990.7 L1304.5,984.2 L1305.8,977.8 L1307.1,971.4 L1308.4,965.0 L1309.6,958.6 L1310.9,952.1 L1312.1,945.7 L1313.4,939.3 L1314.6,932.9 L1315.8,926.4 L1317.0,920.0 L1318.2,913.5 L1319.4,907.1 L1320.6,900.6 L1321.7,894.2 L1322.9,887.8 L1324.0,881.3 L1325.2,874.9 L1326.3,868.4 L1327.4,861.9 L1328.5,855.5 L1329.6,849.0 L1330.7,842.6 L1331.8,836.1 L1332.9,829.7 L1334.0,823.2 L1335.1,816.7 L1336.2,810.3 L1337.3,803.8 L1338.4,797.4 L1339.4,790.9 L1340.5,784.5 L1341.6,778.0 L1342.7,771.5 L1343.7,765.1 L1344.8,758.6 L1345.9,752.2 L1346.9,745.7 L1348.0,739.3 L1349.1,732.8 L1350.2,726.4 L1351.2,719.9 L1352.3,713.5 L1353.4,707.0 L1354.5,700.6 L1355.6,694.2 L1356.7,687.7 L1357.8,681.3 L1358.9,674.9 L1360.0,668.4 L1361.1,662.0 L1362.3,655.6 L1363.4,649.2 L1364.5,642.8 L1365.7,636.3 L1366.8,629.9 L1368.0,623.5 L1369.2,617.1 L1370.4,610.7 L1371.6,604.3 L1372.8,598.0 L1374.0,591.6 L1375.2,585.2 L1376.4,578.8 L1377.7,572.4 L1379.0,566.1 L1380.2,559.7 L1381.5,553.4 L1382.8,547.0 L1384.2,540.7 L1385.5,534.3 L1386.8,528.0 L1388.2,521.7 L1389.6,515.3 L1391.0,509.0 L1392.5,502.7 L1393.9,496.3 L1395.4,490.0 L1397.0,483.6 L1398.5,477.3 L1400.2,470.9 L1401.8,464.5 L1403.5,458.1 L1405.3,451.6 L1407.1,445.2 L1408.9,438.7 L1410.9,432.2 L1412.8,425.6 L1414.9,419.0 L1417.0,412.4 L1419.1,405.8 L1421.5,399.2 L1424.0,393.0 L1427.1,387.5 L1430.7,382.9 L1434.9,379.7 L1439.4,378.3 L1444.1,379.1 L1448.7,381.8 L1453.1,386.0 L1457.2,391.2 L1460.9,397.0 L1464.1,403.0 L1466.9,409.2 L1469.3,415.4 L1471.4,421.7 L1473.3,428.1 L1474.9,434.5 L1476.5,441.0 L1478.0,447.4 L1479.5,453.9 L1481.0,460.3 L1482.4,466.7 L1483.9,473.1 L1485.5,479.5 L1487.0,485.9 L1488.5,492.3 L1490.0,498.6 L1491.5,505.0 L1493.0,511.3 L1494.5,517.7 L1496.1,524.0 L1497.6,530.4 L1499.1,536.7 L1500.7,543.0 L1502.2,549.3 L1503.8,555.7 L1505.3,562.0 L1506.9,568.3 L1508.4,574.7 L1510.0,581.0 L1511.5,587.3 L1513.1,593.7 L1514.7,600.0 L1516.2,606.3 L1517.8,612.7 L1519.3,619.0 L1520.9,625.3 L1522.5,631.7 L1524.0,638.0 L1525.6,644.4 L1527.2,650.7 L1528.7,657.1 L1530.3,663.4 L1531.8,669.8 L1533.4,676.1 L1535.0,682.5 L1536.5,688.8 L1538.1,695.2 L1539.6,701.5 L1541.1,707.9 L1542.7,714.2 L1544.2,720.6 L1545.7,727.0 L1547.2,733.3 L1548.8,739.7 L1550.3,746.0 L1551.8,752.4 L1553.3,758.8 L1554.8,765.2 L1556.2,771.5 L1557.7,777.9 L1559.2,784.3 L1560.6,790.6 L1562.1,797.0 L1563.5,803.4 L1565.0,809.8 L1566.4,816.2 L1567.8,822.6 L1569.2,828.9 L1570.6,835.3 L1572.0,841.7 L1573.4,848.1 L1574.7,854.5 L1576.1,860.9 L1577.4,867.3 L1578.8,873.7 L1580.1,880.1 L1581.4,886.5 L1582.7,892.9 L1584.1,899.3 L1585.4,905.7 L1586.6,912.1 L1587.9,918.5 L1589.2,924.9 L1590.5,931.3 L1591.8,937.7 L1593.0,944.2 L1594.3,950.6 L1595.5,957.0 L1596.8,963.4 L1598.0,969.8 L1599.3,976.2 L1600.5,982.6 L1601.7,989.1 L1602.9,995.5 L1604.2,1001.9 L1605.4,1008.3 L1606.6,1014.7 L1607.8,1021.2 L1609.0,1027.6 L1610.2,1034.0 L1611.4,1040.4 L1612.6,1046.8 L1613.8,1053.3 L1615.0,1059.7 L1616.2,1066.1 L1617.4,1072.5 L1618.6,1079.0 L1619.8,1085.4 L1621.0,1091.8 L1622.2,1098.2 L1623.4,1104.7 L1624.6,1111.1 L1625.9,1117.5 L1627.1,1123.9 L1628.4,1130.3 L1629.7,1136.7 L1631.0,1143.1 L1632.4,1149.5 L1633.7,1155.9 L1635.2,1162.2 L1636.6,1168.6 L1638.1,1174.9 L1639.7,1181.3 L1641.3,1187.6 L1642.9,1193.9 L1644.6,1200.2 L1646.4,1206.5 L1648.2,1212.7 L1650.1,1219.0 L1652.0,1225.2 L1654.0,1231.4 L1656.1,1237.6 L1658.3,1243.8 L1660.5,1249.9 L1662.9,1256.1 L1665.3,1262.2 L1667.8,1268.3 L1670.4,1274.3 L1673.1,1280.4 L1675.8,1286.4 L1678.7,1292.4 L1681.7,1298.3 L1684.8,1304.2 L1688.0,1310.0 L1691.4,1315.8 L1694.8,1321.4 L1698.4,1326.9 L1702.1,1332.4 L1705.9,1337.7 L1709.9,1342.8 L1714.1,1347.8 L1718.3,1352.6 L1722.8,1357.3 L1727.3,1361.7 L1732.1,1366.0 L1737.0,1370.0 L1742.1,1373.9 L1747.3,1377.4 L1752.8,1380.8 L1758.4,1383.8 L1764.2,1386.6 L1770.2,1389.1 L1776.3,1391.4 L1782.6,1393.4 L1789.0,1395.1 L1795.5,1396.7 L1802.1,1398.1 L1808.7,1399.4 L1815.4,1400.5 L1822.0,1401.6 L1828.7,1402.6 L1835.3,1403.5 L1841.8,1404.4 L1848.2,1405.3 L1854.5,1406.2 L1860.6,1407.2 L1866.6,1408.2"/>
<path stroke="#008000" d="M744.0,1408.9 L750.7,1408.2 L757.4,1407.5 L764.2,1406.9 L770.9,1406.3 L777.6,1405.8 L784.4,1405.3 L791.1,1404.9 L797.8,1404.5 L804.5,1404.1 L811.2,1403.7 L817.9,1403.3 L824.6,1402.9 L831.2,1402.5 L837.9,1402.1 L844.6,1401.7 L851.3,1401.3 L857.9,1400.8 L864.6,1400.2 L871.3,1399.7 L877.9,1399.1 L884.6,1398.4 L891.2,1397.6 L897.8,1396.8 L904.5,1395.9 L911.1,1394.9 L917.7,1393.8 L924.4,1392.6 L931.0,1391.3 L937.6,1389.9 L944.2,1388.4 L950.8,1386.8 L957.4,1385.0 L963.9,1383.1 L970.4,1381.1 L976.8,1378.9 L983.2,1376.6 L989.5,1374.1 L995.8,1371.5 L1001.9,1368.8 L1008.0,1365.9 L1014.0,1362.8 L1019.8,1359.6 L1025.5,1356.2 L1031.1,1352.7 L1036.6,1349.0 L1041.9,1345.1 L1047.1,1341.0 L1052.1,1336.7 L1056.9,1332.3 L1061.5,1327.7 L1066.0,1322.9 L1070.3,1317.9 L1074.4,1312.8 L1078.4,1307.5 L1082.2,1302.0 L1085.8,1296.4 L1089.4,1290.7 L1092.8,1284.9 L1096.0,1279.0 L1099.2,1272.9 L1102.2,1266.8 L1105.1,1260.6 L1107.9,1254.4 L1110.7,1248.1 L1113.3,1241.7 L1115.9,1235.3 L1118.4,1228.8 L1120.9,1222.4 L1123.3,1215.9 L1125.6,1209.5 L1127.9,1203.0 L1130.2,1196.6 L1132.4,1190.1 L1134.6,1183.7 L1136.7,1177.3 L1138.9,1171.0 L1141.0,1164.6 L1143.0,1158.3 L1145.1,1151.9 L1147.1,1145.6 L1149.1,1139.2 L1151.0,1132.9 L1153.0,1126.5 L1154.9,1120.2 L1156.7,1113.8 L1158.6,1107.5 L1160.4,1101.1 L1162.2,1094.7 L1164.0,1088.3 L1165.8,1081.9 L1167.5,1075.4 L1169.2,1069.0 L1170.9,1062.6 L1172.6,1056.1 L1174.2,1049.6 L1175.9,1043.1 L1177.5,1036.6 L1179.1,1030.1 L1180.7,1023.6 L1182.3,1017.1 L1183.8,1010.6 L1185.4,1004.1 L1186.9,997.5 L1188.5,991.0 L1190.0,984.4 L1191.5,977.9 L1193.0,971.3 L1194.5,964.7 L1196.0,958.2 L1197.5,951.6 L1199.0,945.0 L1200.5,938.4 L1201.9,931.8 L1203.4,925.3 L1204.9,918.7 L1206.4,912.1 L1207.8,905.5 L1209.3,898.9 L1210.8,892.3 L1212.3,885.7 L1213.8,879.2 L1215.3,872.6 L1216.7,866.0 L1218.3,859.4 L1219.8,852.8 L1221.3,846.3 L1222.8,839.7 L1224.3,833.1 L1225.9,826.6 L1227.4,820.0 L1229.0,813.5 L1230.6,806.9 L1232.2,800.4 L1233.8,793.9 L1235.5,787.4 L1237.1,780.9 L1238.8,774.4 L1240.4,767.9 L1242.1,761.4 L1243.9,754.9 L1245.6,748.5 L1247.4,742.0 L1249.1,735.6 L1250.9,729.1 L1252.7,722.7 L1254.5,716.2 L1256.3,709.8 L1258.2,703.4 L1260.0,697.0 L1261.8,690.5 L1263.6,684.1 L1265.5,677.7 L1267.3,671.3 L1269.1,664.9 L1270.9,658.4 L1272.7,652.0 L1274.5,645.6 L1276.3,639.1 L1278.1,632.7 L1279.9,626.2 L1281.6,619.7 L1283.4,613.3 L1285.1,606.8 L1286.8,600.3 L1288.4,593.8 L1290.1,587.2 L1291.7,580.7 L1293.3,574.2 L1294.9,567.6 L1296.4,561.0 L1297.9,554.4 L1299.4,547.8 L1300.8,541.2 L1302.2,534.5 L1303.6,527.8 L1304.9,521.2 L1306.3,514.5 L1307.6,507.8 L1309.1,501.1 L1310.5,494.5 L1312.0,487.9 L1313.7,481.3 L1315.4,474.8 L1317.3,468.3 L1319.3,461.9 L1321.5,455.6 L1323.9,449.3 L1326.4,443.2 L1329.2,437.1 L1332.3,431.2 L1335.6,425.4 L1339.2,419.7 L1343.1,414.1 L1347.3,408.7 L1351.8,403.5 L1356.6,398.9 L1361.7,395.1 L1367.0,392.4 L1372.6,391.1 L1378.3,391.4 L1384.0,393.2 L1389.4,396.2 L1394.3,400.4 L1398.7,405.4 L1402.7,411.2 L1406.4,417.5 L1409.7,424.1 L1412.7,430.9 L1415.5,437.6 L1418.2,444.3 L1420.6,450.8 L1423.0,457.2 L1425.2,463.6 L1427.4,469.9 L1429.6,476.1 L1431.7,482.3 L1433.9,488.5 L1436.1,494.7 L1438.4,500.9 L1440.7,507.1 L1443.1,513.2 L1445.5,519.4 L1447.9,525.6 L1450.3,531.8 L1452.8,538.0 L1455.3,544.1 L1457.8,550.3 L1460.4,556.5 L1462.9,562.7 L1465.5,568.9 L1468.1,575.0 L1470.7,581.2 L1473.4,587.4 L1476.0,593.6 L1478.6,599.8 L1481.2,606.0 L1483.9,612.2 L1486.5,618.4 L1489.1,624.6 L1491.7,630.8 L1494.3,637.0 L1496.9,643.3 L1499.5,649.5 L1502.1,655.7 L1504.6,662.0 L1507.2,668.2 L1509.7,674.5 L1512.1,680.8 L1514.6,687.0 L1517.0,693.3 L1519.4,699.6 L1521.7,705.9 L1524.0,712.3 L1526.3,718.6 L1528.5,724.9 L1530.7,731.3 L1532.8,737.6 L1534.9,744.0 L1536.9,750.4 L1538.9,756.8 L1540.9,763.2 L1542.8,769.6 L1544.7,776.1 L1546.5,782.5 L1548.3,788.9 L1550.0,795.4 L1551.8,801.9 L1553.5,808.3 L1555.2,814.8 L1556.8,821.3 L1558.4,827.8 L1560.0,834.3 L1561.6,840.8 L1563.2,847.3 L1564.7,853.9 L1566.3,860.4 L1567.8,866.9 L1569.3,873.5 L1570.8,880.0 L1572.3,886.5 L1573.8,893.1 L1575.3,899.6 L1576.8,906.2 L1578.2,912.7 L1579.7,919.3 L1581.2,925.9 L1582.7,932.4 L1584.2,939.0 L1585.7,945.5 L1587.3,952.1 L1588.8,958.7 L1590.3,965.2 L1591.9,971.8 L1593.5,978.3 L1595.1,984.9 L1596.7,991.4 L1598.4,998.0 L1600.1,1004.5 L1601.8,1011.1 L1603.5,1017.6 L1605.3,1024.1 L1607.0,1030.7 L1608.8,1037.2 L1610.6,1043.7 L1612.4,1050.2 L1614.2,1056.7 L1616.0,1063.2 L1617.8,1069.7 L1619.6,1076.2 L1621.4,1082.7 L1623.2,1089.2 L1624.9,1095.7 L1626.6,1102.1 L1628.4,1108.6 L1630.0,1115.0 L1631.7,1121.5 L1633.3,1127.9 L1634.9,1134.4 L1636.4,1140.8 L1637.9,1147.2 L1639.4,1153.6 L1640.9,1160.0 L1642.4,1166.4 L1644.0,1172.8 L1645.5,1179.3 L1647.1,1185.7 L1648.7,1192.1 L1650.3,1198.5 L1652.0,1204.9 L1653.8,1211.4 L1655.7,1217.8 L1657.6,1224.3 L1659.7,1230.7 L1661.8,1237.2 L1664.0,1243.7 L1666.4,1250.2 L1668.8,1256.6 L1671.4,1263.0 L1674.1,1269.4 L1676.8,1275.8 L1679.7,1282.1 L1682.8,1288.3 L1685.9,1294.5 L1689.2,1300.6 L1692.5,1306.6 L1696.0,1312.5 L1699.7,1318.3 L1703.4,1324.0 L1707.3,1329.5 L1711.4,1335.0 L1715.5,1340.3 L1719.8,1345.4 L1724.2,1350.4 L1728.8,1355.2 L1733.5,1359.9 L1738.4,1364.3 L1743.4,1368.6 L1748.6,1372.6 L1753.9,1376.5 L1759.4,1380.1 L1765.0,1383.5 L1770.8,1386.7 L1776.7,1389.6 L1782.8,1392.3 L1789.0,1394.7 L1795.3,1396.9 L1801.7,1398.9 L1808.2,1400.7 L1814.7,1402.3 L1821.4,1403.8 L1828.0,1405.0 L1834.7,1406.0 L1841.3,1406.9 L1848.0,1407.6 L1854.7,1408.1 L1861.4,1408.6 L1868.1,1408.9 L1874.8,1409.1 L1881.6,1409.2 L1888.3,1409.2 L1895.0,1409.1 L1901.7,1409.0 L1908.5,1408.8 L1915.2,1408.6 L1921.9,1408.4 L1928.7,1408.1 L1935.4,1407.9 L1942.2,1407.6 L1948.9,1407.4 L1955.6,1407.2 L1962.3,1407.1 L1969.1,1407.0 L1975.8,1406.9 L1982.5,1407.0 L1989.2,1407.2 L1995.9,1407.4 L2002.6,1407.8 L2009.3,1408.3 L2015.9,1409.0"/>
</g>
<text transform="translate(275.5,1425.9) scale(1.067,1)" font-size="57.3" text-anchor="end" font-family='"Liberation Sans", "Noto Sans CJK SC", sans-serif'>0.0</text>
<text transform="translate(275.5,999.9) scale(1.067,1)" font-size="57.3" text-anchor="end" font-family='"Liberation Sans", "Noto Sans CJK SC", sans-serif'>0.4</text>
<text transform="translate(275.5,574.0) scale(1.067,1)" font-size="57.3" text-anchor="end" font-family='"Liberation Sans", "Noto Sans CJK SC", sans-serif'>0.8</text>
<text transform="translate(275.5,148.0) scale(1.067,1)" font-size="57.3" text-anchor="end" font-family='"Liberation Sans", "Noto Sans CJK SC", sans-serif'>1.2</text>
<text transform="translate(431.4,1500.4) scale(1.067,1)" font-size="57.3" text-anchor="middle" font-family='"Liberation Sans", "Noto Sans CJK SC", sans-serif'>3</text>
<text transform="translate(788.2,1500.4) scale(1.067,1)" font-size="57.3" text-anchor="middle" font-family='"Liberation Sans", "Noto Sans CJK SC", sans-serif'>4</text>
<text transform="translate(1145.0,1500.4) scale(1.067,1)" font-size="57.3" text-anchor="middle" font-family='"Liberation Sans", "Noto Sans CJK SC", sans-serif'>5</text>
<text transform="translate(1501.8,1500.4) scale(1.067,1)" font-size="57.3" text-anchor="middle" font-family='"Liberation Sans", "Noto Sans CJK SC", sans-serif'>6</text>
<text transform="translate(1858.6,1500.4) scale(1.067,1)" font-size="57.3" text-anchor="middle" font-family='"Liberation Sans", "Noto Sans CJK SC", sans-serif'>7</text>
<line x1="424.1" x2="565" y1="112.6" y2="112.6" stroke="#000000" stroke-width="8.4"/>
<text transform="translate(580.0,132.8) scale(1.035,1)" font-size="59.5" text-anchor="start" font-family='"Liberation Sans", "Noto Sans CJK SC", sans-serif'>S-C1-a 50</text>
<text transform="translate(880.5,132.8) scale(1.0,1)" font-size="55" text-anchor="start" font-family='"Noto Sans CJK SC", "Liberation Sans", sans-serif'>℃</text>
<line x1="424.1" x2="565" y1="185.7" y2="185.7" stroke="#ff0000" stroke-width="7.8"/>
<text transform="translate(582.2,205.9) scale(1.035,1)" font-size="59.5" text-anchor="start" font-family='"Liberation Sans", "Noto Sans CJK SC", sans-serif'>S-C1-a 70</text>
<text transform="translate(882.7,205.9) scale(1.0,1)" font-size="55" text-anchor="start" font-family='"Noto Sans CJK SC", "Liberation Sans", sans-serif'>℃</text>
<line x1="424.1" x2="565" y1="259.1" y2="259.1" stroke="#0000ff" stroke-width="7.8"/>
<text transform="translate(582.2,279.3) scale(1.035,1)" font-size="59.5" text-anchor="start" font-family='"Liberation Sans", "Noto Sans CJK SC", sans-serif'>S-C1-b 50</text>
<text transform="translate(882.7,279.3) scale(1.0,1)" font-size="55" text-anchor="start" font-family='"Noto Sans CJK SC", "Liberation Sans", sans-serif'>℃</text>
<line x1="424.1" x2="565" y1="330.8" y2="330.8" stroke="#800000" stroke-width="7.8"/>
<text transform="translate(582.2,351.0) scale(1.035,1)" font-size="59.5" text-anchor="start" font-family='"Liberation Sans", "Noto Sans CJK SC", sans-serif'>S-C1-b 70</text>
<text transform="translate(882.7,351.0) scale(1.0,1)" font-size="55" text-anchor="start" font-family='"Noto Sans CJK SC", "Liberation Sans", sans-serif'>℃</text>
<line x1="424.1" x2="565" y1="403.9" y2="403.9" stroke="#800080" stroke-width="7.8"/>
<text transform="translate(582.2,424.1) scale(1.035,1)" font-size="59.5" text-anchor="start" font-family='"Liberation Sans", "Noto Sans CJK SC", sans-serif'>S-C2-a 70</text>
<text transform="translate(882.7,424.1) scale(1.0,1)" font-size="55" text-anchor="start" font-family='"Noto Sans CJK SC", "Liberation Sans", sans-serif'>℃</text>
<line x1="424.1" x2="565" y1="475.9" y2="475.9" stroke="#008000" stroke-width="7.8"/>
<text transform="translate(582.2,496.1) scale(1.035,1)" font-size="59.5" text-anchor="start" font-family='"Liberation Sans", "Noto Sans CJK SC", sans-serif'>S-C2-b 70</text>
<text transform="translate(882.7,496.1) scale(1.0,1)" font-size="55" text-anchor="start" font-family='"Noto Sans CJK SC", "Liberation Sans", sans-serif'>℃</text>
<text transform="translate(1324,385.5) scale(1.067,1)" font-size="72" text-anchor="start" font-family='"Liberation Sans", "Noto Sans CJK SC", sans-serif'>14</text>
<text transform="translate(1238,484.5) scale(1.067,1)" font-size="72" text-anchor="start" font-family='"Liberation Sans", "Noto Sans CJK SC", sans-serif'>2</text>
<text transform="translate(1480,507.5) scale(1.067,1)" font-size="72" text-anchor="start" font-family='"Liberation Sans", "Noto Sans CJK SC", sans-serif'>10</text>
<text transform="translate(986.6,839.5) scale(1.067,1)" font-size="72" text-anchor="start" font-family='"Liberation Sans", "Noto Sans CJK SC", sans-serif'>7</text>
<text transform="translate(973,1095.5) scale(1.067,1)" font-size="72" text-anchor="start" font-family='"Liberation Sans", "Noto Sans CJK SC", sans-serif'>3</text>
<text transform="translate(1036,1101.5) scale(1.067,1)" font-size="72" text-anchor="start" font-family='"Liberation Sans", "Noto Sans CJK SC", sans-serif'>6</text>
<text transform="translate(1079.6,1589) scale(1.038,1)" font-size="74" text-anchor="start" font-family='"Liberation Sans", "Noto Sans CJK SC", sans-serif'>Log</text>
<text transform="translate(1228,1589) scale(1.067,1)" font-size="72" text-anchor="start" font-family='"Liberation Serif", "Noto Serif CJK SC", serif'>(</text>
<text transform="translate(1254,1589) scale(1.038,1)" font-size="74" text-anchor="start" font-family='"Liberation Sans", "Noto Sans CJK SC", sans-serif'>M</text>
<text transform="translate(1315,1613.5) scale(1.067,1)" font-size="62" text-anchor="start" font-family='"Liberation Sans", "Noto Sans CJK SC", sans-serif'>w</text>
<text transform="translate(1363.5,1589) scale(1.067,1)" font-size="72" text-anchor="start" font-family='"Liberation Serif", "Noto Serif CJK SC", serif'>)</text>
<text transform="translate(92,728) scale(1.067,1) rotate(-90)" font-size="72.8" text-anchor="middle" font-family='"Liberation Sans", "Noto Sans CJK SC", sans-serif'>dwt/d(logM<tspan font-size="41" dy="24">w</tspan><tspan dy="-24">)</tspan></text>
</svg>
</body></html>
